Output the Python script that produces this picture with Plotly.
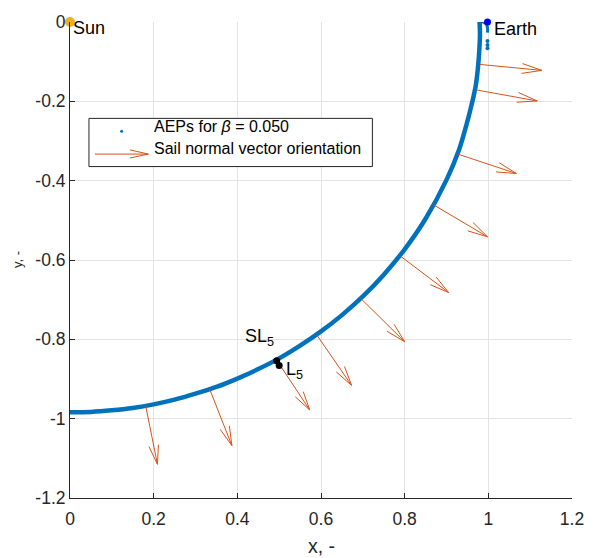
import numpy as np
import plotly.graph_objects as go

# Artificial equilibrium points (AEPs) along the arc, x and y in normalised units
aep_x = [0.000, 0.050, 0.100, 0.150, 0.200, 0.250, 0.300, 0.350, 0.400, 0.450,
         0.500, 0.550, 0.600, 0.650, 0.700, 0.750, 0.800, 0.850, 0.900, 0.930,
         0.948, 0.962, 0.970, 0.976, 0.979, 0.980, 0.979]
aep_y = [-0.984, -0.983, -0.979, -0.973, -0.964, -0.952, -0.937, -0.920, -0.899, -0.875,
         -0.848, -0.816, -0.780, -0.739, -0.692, -0.637, -0.573, -0.496, -0.398, -0.322,
         -0.258, -0.200, -0.160, -0.106, -0.060, -0.030, 0.002]

# Short branch of AEPs close to the Earth
hook_x = [0.979, 0.988, 0.995, 0.998, 0.998]
hook_y = [0.002, 0.000, -0.005, -0.015, -0.027]
near_x = [0.998, 0.998, 0.998]
near_y = [-0.048, -0.058, -0.066]

# Sail normal vectors: base points and components
vec_x = [0.980, 0.970, 0.927, 0.870, 0.791, 0.695, 0.590, 0.495, 0.334, 0.181]
vec_y = [-0.107, -0.171, -0.333, -0.4615, -0.591, -0.697, -0.789, -0.854, -0.926, -0.968]
vec_u = [0.148, 0.147, 0.140, 0.128, 0.114, 0.105, 0.083, 0.078, 0.053, 0.028]
vec_v = [-0.015, -0.028, -0.049, -0.080, -0.091, -0.109, -0.127, -0.124, -0.142, -0.147]

# Bodies and Lagrange points
sun = (0.0, 0.0)
earth = (0.998, 0.0)
sl5 = (0.494, -0.854)
l5 = (0.500, -0.866)

x_ticks = [0, 0.2, 0.4, 0.6, 0.8, 1, 1.2]
x_tick_text = ["0", "0.2", "0.4", "0.6", "0.8", "1", "1.2"]
y_ticks = [0, -0.2, -0.4, -0.6, -0.8, -1, -1.2]
y_tick_text = ["0", "-0.2", "-0.4", "-0.6", "-0.8", "-1", "-1.2"]

BLUE = "#0072BD"
ORANGE = "#D95319"
AXC = "#262626"
FONT = "Liberation Sans, Arial, Helvetica, sans-serif"

W, H = 596, 558
ML, MR, MT, MB = 70, 23, 14, 60
PW, PH = W - ML - MR, H - MT - MB
SX, SY = PW / 1.2, PH / 1.2  # pixels per data unit


def quiver_segments(xs, ys, us, vs, head_frac=0.32, half_frac=0.08):
    """Build shaft + open V head polylines, heads shaped in screen space."""
    px, py = [], []
    for x, y, u, v in zip(xs, ys, us, vs):
        tx, ty = x + u, y + v
        dx, dy = u * SX, v * SY
        L = np.hypot(dx, dy)
        ux, uy = dx / L, dy / L
        nx, ny = -uy, ux
        h, w = head_frac * L, half_frac * L
        h1x = tx + (-h * ux + w * nx) / SX
        h1y = ty + (-h * uy + w * ny) / SY
        h2x = tx + (-h * ux - w * nx) / SX
        h2y = ty + (-h * uy - w * ny) / SY
        px += [x, tx, None, h1x, tx, h2x, None]
        py += [y, ty, None, h1y, ty, h2y, None]
    return px, py


fig = go.Figure()

fig.add_trace(go.Scatter(x=aep_x, y=aep_y, mode="lines",
                         line=dict(color=BLUE, width=4.5, shape="spline", smoothing=0.8),
                         hoverinfo="skip"))
fig.add_trace(go.Scatter(x=hook_x, y=hook_y, mode="lines",
                         line=dict(color=BLUE, width=3, shape="spline"), hoverinfo="skip"))
fig.add_trace(go.Scatter(x=near_x, y=near_y, mode="markers",
                         marker=dict(color=BLUE, size=4), hoverinfo="skip"))

qx, qy = quiver_segments(vec_x, vec_y, vec_u, vec_v)
fig.add_trace(go.Scatter(x=qx, y=qy, mode="lines",
                         line=dict(color=ORANGE, width=1), hoverinfo="skip"))

fig.add_trace(go.Scatter(x=[sun[0]], y=[sun[1]], mode="markers", cliponaxis=False,
                         marker=dict(color="#EDB120", size=10)))
fig.add_trace(go.Scatter(x=[earth[0]], y=[earth[1]], mode="markers", cliponaxis=False,
                         marker=dict(color="#0000FF", size=7)))
fig.add_trace(go.Scatter(x=[sl5[0], l5[0]], y=[sl5[1], l5[1]], mode="markers",
                         marker=dict(color="black", size=7)))

annotations = [
    dict(x=sun[0], y=sun[1], text="Sun", xanchor="left", yanchor="middle",
         xshift=1, yshift=-6, showarrow=False, font=dict(size=18, color="black")),
    dict(x=earth[0], y=earth[1], text="Earth", xanchor="left", yanchor="middle",
         xshift=4, yshift=-7, showarrow=False, font=dict(size=18, color="black")),
    dict(x=sl5[0], y=sl5[1], text="SL<sub>5</sub>", xanchor="right", yanchor="middle",
         xshift=-1, yshift=23, showarrow=False, font=dict(size=18, color="black")),
    dict(x=l5[0], y=l5[1], text="L<sub>5</sub>", xanchor="left", yanchor="middle",
         xshift=5, yshift=-5, showarrow=False, font=dict(size=18, color="black")),
    # axis titles
    dict(x=0.5, y=0, xref="paper", yref="paper", text="x, -", showarrow=False,
         xanchor="center", yanchor="middle", yshift=-48,
         font=dict(size=19.5, color=AXC)),
    dict(x=0, y=0.5, xref="paper", yref="paper", text="y, -", showarrow=False,
         textangle=-90, xanchor="center", yanchor="middle", xshift=-53,
         font=dict(size=13, color=AXC)),
]


def ppx(px):
    return (px - ML) / PW


def ppy(py):
    return 1 - (py - MT) / PH


# legend box
shapes = [
    dict(type="rect", xref="paper", yref="paper", x0=ppx(89), x1=ppx(373),
         y0=ppy(161), y1=ppy(112), line=dict(color=AXC, width=1), fillcolor="white"),
    dict(type="circle", xref="paper", yref="paper", xsizemode="pixel", ysizemode="pixel",
         xanchor=ppx(121.7), yanchor=ppy(125), x0=-1.5, x1=1.5, y0=-1.5, y1=1.5,
         fillcolor=BLUE, line=dict(width=0)),
    dict(type="path", xref="paper", yref="paper",
         path=(f"M{ppx(95)},{ppy(148.3)} L{ppx(148.5)},{ppy(148.3)} "
               f"M{ppx(130)},{ppy(144)} L{ppx(148.5)},{ppy(148.3)} L{ppx(130)},{ppy(152.3)}"),
         line=dict(color=ORANGE, width=1)),
]
annotations += [
    dict(x=ppx(152), y=ppy(120.5), xref="paper", yref="paper", showarrow=False,
         text="AEPs for <i>β</i> = 0.050", xanchor="left", yanchor="middle",
         font=dict(size=16, color="black")),
    dict(x=ppx(152), y=ppy(143), xref="paper", yref="paper", showarrow=False,
         text="Sail normal vector orientation", xanchor="left", yanchor="middle",
         font=dict(size=16, color="black")),
]

axis_common = dict(showgrid=True, gridcolor="#e3e3e3", gridwidth=1, zeroline=False,
                   showline=True, linecolor=AXC, linewidth=1, ticks="inside",
                   ticklen=5, tickcolor=AXC, tickfont=dict(size=17.5, color=AXC))

fig.update_layout(
    width=W, height=H, margin=dict(l=ML, r=MR, t=MT, b=MB),
    paper_bgcolor="white", plot_bgcolor="white", showlegend=False,
    font=dict(family=FONT),
    xaxis=dict(range=[0, 1.2], tickvals=x_ticks, ticktext=x_tick_text,
               ticklabelstandoff=5, **axis_common),
    yaxis=dict(range=[-1.2, 0], tickvals=y_ticks, ticktext=y_tick_text, **axis_common),
    annotations=annotations, shapes=shapes,
)

fig.write_html("out.html")
